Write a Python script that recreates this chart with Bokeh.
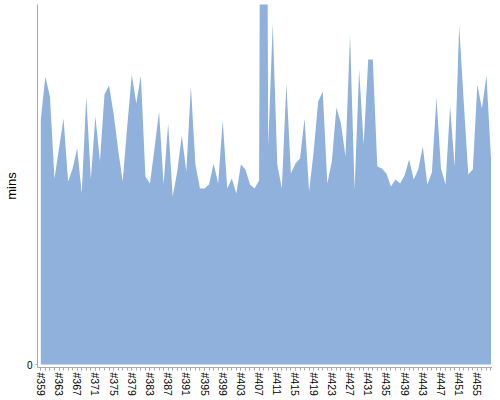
from bokeh.plotting import figure
from bokeh.models import Range1d, FixedTicker, ColumnDataSource
from bokeh.embed import file_html
from bokeh.resources import INLINE

runs = [f"#{n}" for n in range(359, 459)]
mins = [245, 288, 268, 186, 216, 246, 183, 196, 216, 171,
        268, 185, 248, 203, 270, 279, 251, 215, 183, 238,
        290, 261, 289, 188, 181, 216, 253, 180, 241, 168,
        193, 229, 193, 278, 200, 176, 176, 180, 201, 181,
        244, 176, 186, 171, 200, 195, 180, 176, 184, 1500,
        218, 341, 200, 176, 281, 191, 201, 206, 246, 173,
        213, 263, 273, 181, 203, 257, 241, 208, 330, 175,
        295, 220, 305, 305, 198, 196, 191, 178, 185, 181,
        189, 205, 185, 195, 218, 180, 192, 267, 196, 180,
        258, 198, 339, 263, 190, 195, 280, 256, 289, 206]
label_every = 4
y_label = "mins"

idx = list(range(len(runs)))
src = ColumnDataSource(dict(x=idx, y=mins, y0=[0] * len(mins)))

p = figure(width=492, height=398, output_backend="svg", toolbar_location=None,
           x_range=Range1d(-0.73, len(runs) - 1 + 0.33), y_range=Range1d(-3, 360),
           min_border_top=4, min_border_right=0, min_border_bottom=0, min_border_left=0)
p.outline_line_color = None
p.grid.visible = False
p.background_fill_color = "white"

p.varea(x="x", y1="y0", y2="y", source=src, fill_color="#8fb1dc", fill_alpha=1.0)

# x axis
major = [i for i in idx if i % label_every == 0]
p.xaxis.ticker = FixedTicker(ticks=major, minor_ticks=idx)
p.xaxis.major_label_overrides = {i: runs[i] for i in major}
p.xaxis.major_label_orientation = "vertical"
p.xaxis.major_label_text_font = "Liberation Sans"
p.xaxis.major_label_text_font_size = "10.5px"
p.xaxis.major_label_text_color = "#000000"
p.xaxis.major_label_standoff = 2
p.xaxis.major_tick_in = 0
p.xaxis.major_tick_out = 3
p.xaxis.minor_tick_in = 0
p.xaxis.minor_tick_out = 3
p.xaxis.axis_line_color = "#aaaaaa"
p.xaxis.major_tick_line_color = "#aaaaaa"
p.xaxis.minor_tick_line_color = "#aaaaaa"

# y axis
p.yaxis.ticker = FixedTicker(ticks=[0], minor_ticks=[])
p.yaxis.axis_label = y_label
p.yaxis.axis_label_text_font = "Liberation Sans"
p.yaxis.axis_label_text_font_size = "13px"
p.yaxis.axis_label_text_font_style = "normal"
p.yaxis.axis_label_text_color = "#000000"
p.yaxis.axis_label_standoff = 5
p.yaxis.major_label_text_font = "Liberation Sans"
p.yaxis.major_label_text_font_size = "10px"
p.yaxis.major_label_text_color = "#000000"
p.yaxis.major_label_standoff = 3
p.yaxis.major_tick_in = 0
p.yaxis.major_tick_out = 2
p.yaxis.axis_line_color = "#aaaaaa"
p.yaxis.major_tick_line_color = "#aaaaaa"

open("out.html", "w").write(file_html(p, INLINE))
